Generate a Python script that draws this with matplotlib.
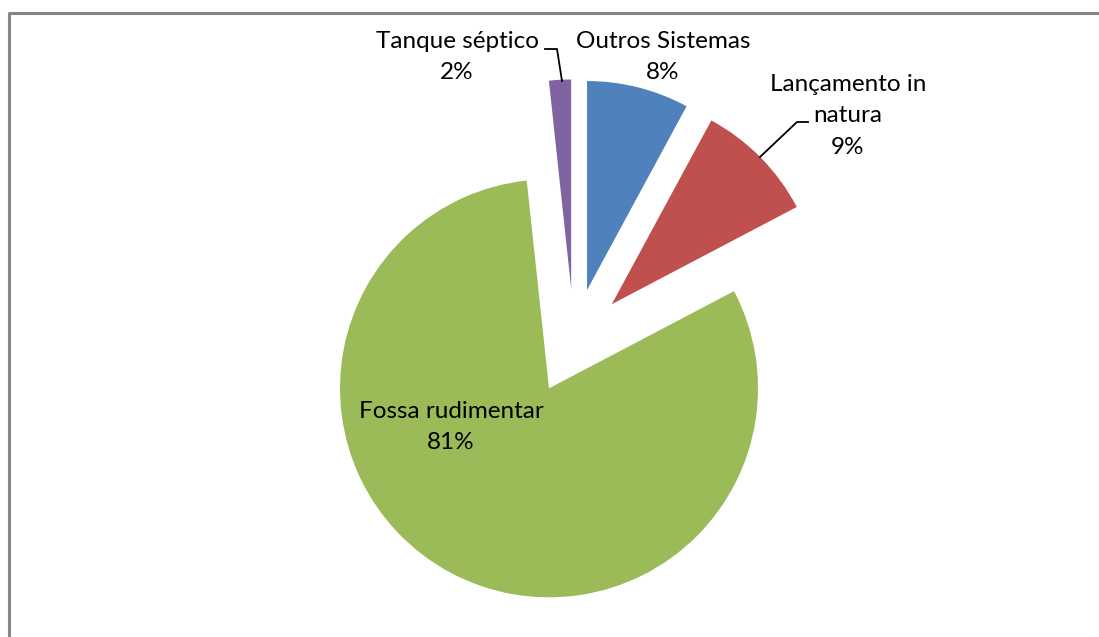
"""Pizza explodida: destino do esgoto sanitario."""

import matplotlib.pyplot as plt

categorias = ["Outros Sistemas", "Lançamento in\nnatura", "Fossa rudimentar", "Tanque séptico"]
valores = [7.9, 9.4, 81.0, 1.7]
cores = ["#4F81BD", "#C0504D", "#9BBB59", "#8064A2"]

W, H = 1099, 637
R = 209  # raio em pixels

fig = plt.figure(figsize=(W / 100, H / 100), dpi=100)
ax = fig.add_axes([0, 0, 1, 1])

# no matplotlib o explode e' em unidades de dados (nao fracao do raio)
ax.pie(
    valores,
    colors=cores,
    startangle=90,
    counterclock=False,
    explode=[0.254 * R] * len(valores),
    radius=R,
    center=(574, H - 341.5),
    wedgeprops=dict(linewidth=0),
)
ax.set_xlim(0, W)
ax.set_ylim(0, H)
ax.set_aspect("equal")
ax.axis("off")

total = sum(valores)
rotulos = [f"{c}\n{v / total * 100:.0f}%" for c, v in zip(categorias, valores)]
pos = [(663, 57), (848, 116), (451, 427), (457, 57)]
fonte = dict(family=["Lato", "DejaVu Sans"], fontsize=17.5, color="black",
             ha="center", va="center", linespacing=1.62)
for txt, (x, y) in zip(rotulos, pos):
    ax.text(x, H - y, txt, **fonte)

# linhas de chamada
ax.plot([545, 557, 562], [H - 49, H - 49, H - 81], color="black", lw=1.3)
ax.plot([808, 797, 760], [H - 122, H - 122, H - 157], color="black", lw=1.3)

# moldura do grafico (cortada embaixo e a direita)
ax.plot([8.5, 8.5, W], [0, H - 13, H - 13], color="#868686", lw=2.2,
        solid_capstyle="butt", clip_on=False)

fig.savefig("out.png", dpi=100)
